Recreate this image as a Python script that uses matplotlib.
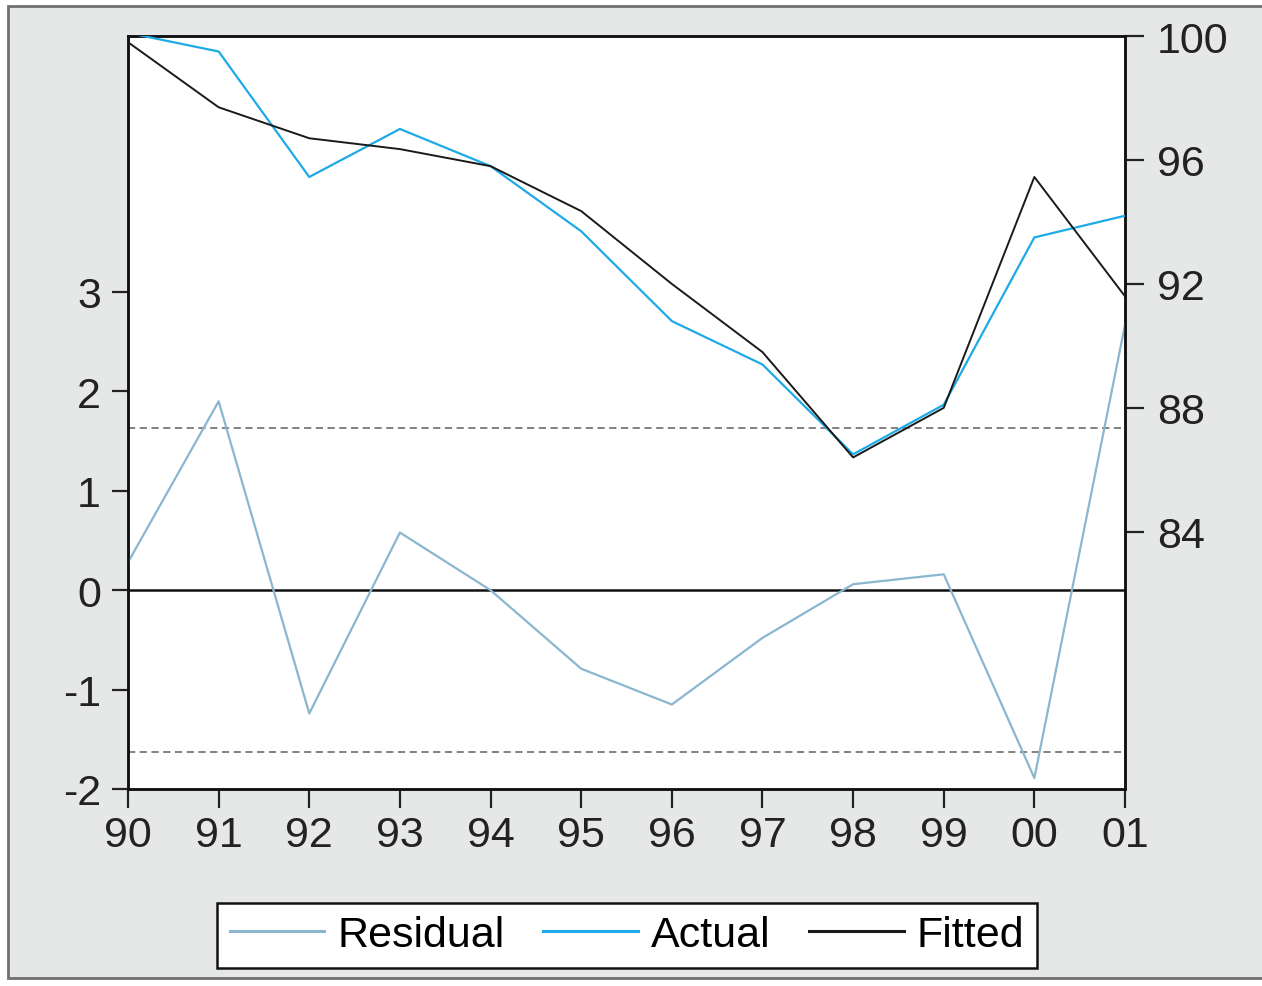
import matplotlib.pyplot as plt
from matplotlib.patches import Rectangle

# yearly observations, 1990-2001
years = ["90", "91", "92", "93", "94", "95", "96", "97", "98", "99", "00", "01"]
actual = [100.1, 99.5, 95.45, 97.0, 95.8, 93.7, 90.8, 89.4, 86.5, 88.1, 93.5, 94.2]
fitted = [99.8, 97.7, 96.7, 96.35, 95.8, 94.35, 92.0, 89.8, 86.4, 88.0, 95.45, 91.6]
residual = [0.28, 1.90, -1.24, 0.58, 0.0, -0.79, -1.15, -0.48, 0.06, 0.16, -1.89, 2.67]
se_band = 1.63

left_ticks = [-2, -1, 0, 1, 2, 3]
right_ticks = [84, 88, 92, 96, 100]

plt.rcParams['font.family'] = ['Liberation Sans', 'DejaVu Sans']
plt.rcParams['font.size'] = 31
plt.rcParams['axes.unicode_minus'] = False

fig = plt.figure(figsize=(12.62, 9.87), dpi=100)
fig.patch.set_facecolor("white")
# grey panel behind everything
fig.patches.append(Rectangle((8 / 1262, 1 - 979 / 987), 1.0, 972 / 987,
                             transform=fig.transFigure, facecolor="#e6e7e7",
                             edgecolor="#707070", linewidth=2, zorder=-10))

ax = fig.add_axes([128 / 1262, 1 - 790 / 987, 997 / 1262, 753 / 987])
ax.set_facecolor("white")
x = list(range(len(years)))

# residuals on the left scale
ax.axhline(0, color="#111111", lw=1.8, zorder=2)
ax.axhline(se_band, color="#777777", lw=1.3, ls=(0, (4, 2.5)), zorder=2)
ax.axhline(-se_band, color="#777777", lw=1.3, ls=(0, (4, 2.5)), zorder=2)
ax.plot(x, residual, color="#8ab6cf", lw=1.6, label="Residual", zorder=3)
ax.set_ylim(-2, 5.575)
ax.set_xlim(0, len(years) - 1)
ax.set_yticks(left_ticks)
ax.set_xticks(x)
ax.set_xticklabels(years)

# actual and fitted on the right scale
ax2 = ax.twinx()
ax2.plot(x, actual, color="#1eaae6", lw=1.6, label="Actual", zorder=3)
ax2.plot(x, fitted, color="#1a1a1a", lw=1.4, label="Fitted", zorder=4)
ax2.set_ylim(75.7, 100)
ax2.set_yticks(right_ticks)

for a in (ax, ax2):
    for s in a.spines.values():
        s.set_linewidth(1.8)
        s.set_color("#111111")
ax.tick_params(axis="y", direction="out", length=11.5, width=1.6, pad=8, colors="#222222")
ax.tick_params(axis="x", direction="out", length=14, width=1.6, pad=5, colors="#222222")
ax2.tick_params(axis="y", direction="out", length=14, width=1.6, pad=9, colors="#222222")

h1, l1 = ax.get_legend_handles_labels()
h2, l2 = ax2.get_legend_handles_labels()
leg = fig.legend(h1 + h2, l1 + l2, loc="center", bbox_to_anchor=(627 / 1262, 1 - 936.5 / 987),
                 ncol=3, fancybox=False, edgecolor="#111111", facecolor="white", framealpha=1,
                 handlelength=2.2, handletextpad=0.3, columnspacing=0.9, borderpad=0.3)
leg.get_frame().set_linewidth(1.8)
for line in leg.get_lines():
    line.set_linewidth(2.2)

fig.savefig("out.png", dpi=100)
